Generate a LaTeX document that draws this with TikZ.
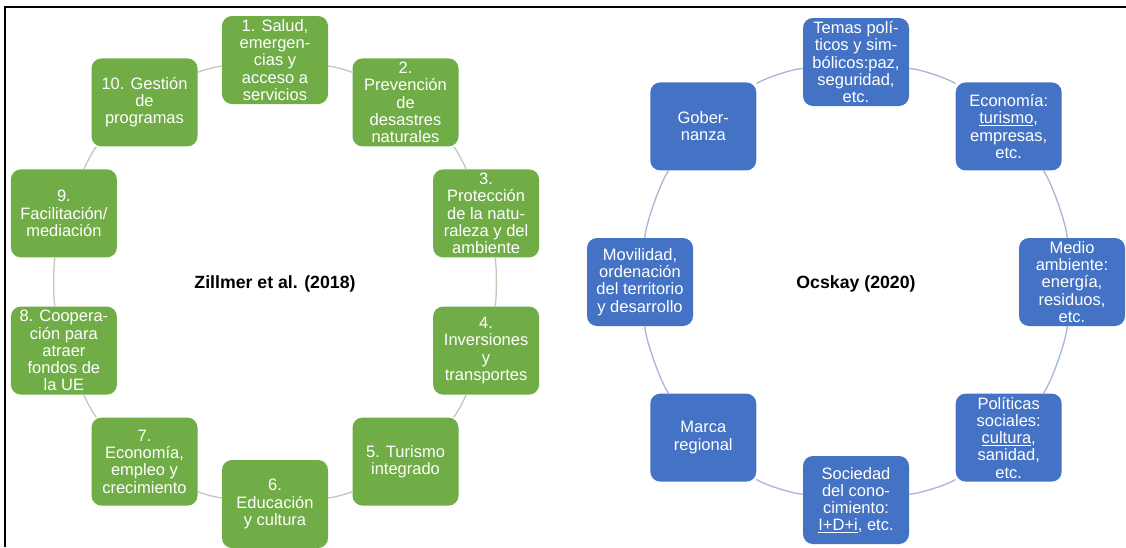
\documentclass[tikz,border=0pt]{standalone}
\usepackage{fontspec}
\setmainfont{Liberation Sans}
\definecolor{boxgreen}{HTML}{70AD47}
\definecolor{boxblue}{HTML}{4472C4}
\definecolor{ringgreen}{RGB}{192,202,184}
\definecolor{ringblue}{RGB}{165,182,216}
\tikzset{
  gbox/.style={fill=boxgreen, rounded corners=10pt, minimum width=106pt, minimum height=88pt,
    inner sep=0pt, text=white, align=center, font=\fontsize{16.5}{17.2}\selectfont},
  bbox/.style={gbox, fill=boxblue},
  gring/.style={draw=ringgreen, line width=1.3pt, bend left=11.5, looseness=0.45},
  bring/.style={draw=ringblue, line width=1.3pt, bend left=16, looseness=0.5},
  ctitle/.style={font=\fontsize{17.7}{20}\selectfont\bfseries, text=black},
}
\begin{document}
\begin{tikzpicture}[x=1pt,y=-1pt]
\useasboundingbox (0,0) rectangle (1126,547);
\fill[white] (0,0) rectangle (1126,547);
\draw[line width=2.5pt] (5,547) -- (5,7) -- (1126,7);

% ---- left cycle ----
\node[gbox] (g1) at (275,60) {1. Salud,\\emergen-\\cias y\\acceso a\\servicios};
\node[gbox] (g2) at (405.5,102.4) {2.\\Prevención\\de\\desastres\\naturales};
\node[gbox] (g3) at (486.1,213.4) {3.\\Protección\\de la natu-\\raleza y del\\ambiente};
\node[gbox] (g4) at (486.1,350.6) {4.\\Inversiones\\y\\transportes};
\node[gbox] (g5) at (405.5,461.6) {5. Turismo\\integrado};
\node[gbox] (g6) at (275,504) {6.\\Educación\\y cultura};
\node[gbox] (g7) at (144.5,461.6) {7.\\Economía,\\empleo y\\crecimiento};
\node[gbox] (g8) at (63.9,350.6) {8. Coopera-\\ción para\\atraer\\fondos de\\la UE};
\node[gbox] (g9) at (63.9,213.4) {9.\\Facilitación/\\mediación};
\node[gbox] (g10) at (144.5,102.4) {10. Gestión\\de\\programas};
\node[ctitle] (tl) at (275,284) {Zillmer et al. (2018)};

\foreach \a/\b in {g1/g2,g2/g3,g3/g4,g4/g5,g5/g6,g6/g7,g7/g8,g8/g9,g9/g10,g10/g1}
  \draw[gring] (\a) to (\b);

% ---- right cycle ----
\node[bbox] (b1) at (856,62) {Temas polí-\\ticos y sim-\\bólicos:paz,\\seguridad,\\etc.};
\node[bbox] (b2) at (1008.7,126.4) {Economía:\\\underline{turismo},\\empresas,\\etc.};
\node[bbox] (b3) at (1072,282) {Medio\\ambiente:\\energía,\\residuos,\\etc.};
\node[bbox] (b4) at (1008.7,437.6) {Políticas\\sociales:\\\underline{cultura},\\sanidad,\\etc.};
\node[bbox] (b5) at (856,500) {Sociedad\\del cono-\\cimiento:\\\underline{I+D+i}, etc.};
\node[bbox] (b6) at (703.3,437.6) {Marca\\regional};
\node[bbox] (b7) at (640,282) {Movilidad,\\ordenación\\del territorio\\y desarrollo};
\node[bbox] (b8) at (703.3,126.4) {Gober-\\nanza};
\node[ctitle] (tr) at (856,284) {Ocskay (2020)};

\foreach \a/\b in {b1/b2,b2/b3,b3/b4,b4/b5,b5/b6,b6/b7,b7/b8,b8/b1}
  \draw[bring] (\a) to (\b);
\end{tikzpicture}
\end{document}
